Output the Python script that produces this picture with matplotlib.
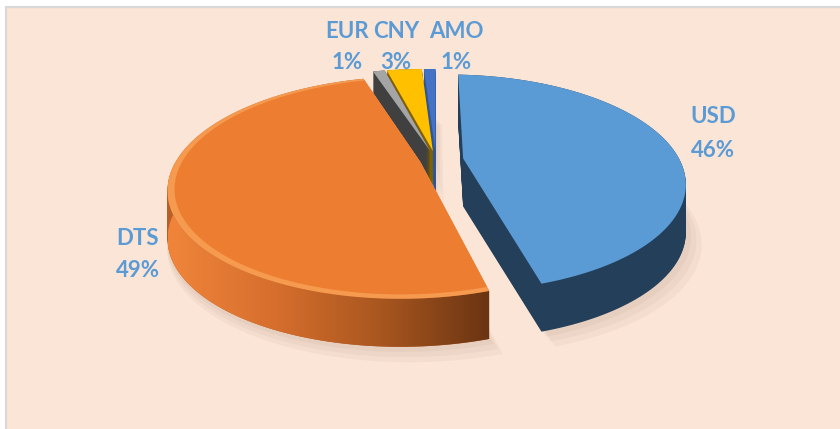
"""
Exploded 3D-look pie of currency shares (USD, DTS, EUR, CNY, AMO).
Writes out.png (840x429).
"""

import matplotlib

matplotlib.use("Agg")
import matplotlib.pyplot as plt
import numpy as np
from matplotlib.colors import LinearSegmentedColormap
from matplotlib.patches import Polygon, Rectangle

# data
CURRENCIES = ["USD", "DTS", "EUR", "CNY", "AMO"]
SHARES = [46, 49, 1, 3, 1]
PCT_LABELS = ["46%", "49%", "1%", "3%", "1%"]

# styling
TOP_COLORS = ["#5B9BD5", "#ED7D31", "#A5A5A5", "#FFC000", "#4472C4"]
SIDE_COLORS = ["#243F5A", "#B85F27", "#404040", "#7F6000", "#2F5597"]
EXPLODE = [0.12, 0.07, 0.09, 0.09, 0.09]
START_ANGLE = 90
LABEL_COLOR = "#5B9BD5"
BG_COLOR = "#FBE5D6"

W_PX, H_PX = 840, 429
RX_PX, RY_PX = 230, 104          # radii of the top face before perspective
CX_PX, CY_PX = 436, 160          # centre (from top-left)
DEPTH_PX = 48
PERSP_Y = 0.227                  # far half smaller, near half bigger
PERSP_X = 0.05                   # right side slightly farther away

# label anchors in pixels (centre x, baseline y from top)
LABEL_POS = {
    "USD": (713, 123, 157),
    "DTS": (138, 245, 277),
    "EUR": (347, 38, 69),
    "CNY": (396, 38, 69),
    "AMO": (456, 38, 69),
}

plt.rcParams["font.family"] = ["Lato", "DejaVu Sans"]


def project(pts, d):
    """Ground-plane pie coords -> screen data coords, d = drop below the top face."""
    x, g = pts[:, 0], pts[:, 1]
    s = 1.0 / (1.0 + PERSP_Y * g + PERSP_X * x)
    return np.column_stack([x * s, g * s - d])


def wedge_pts(w, r=None, n=240):
    r = w.r if r is None else r
    t = np.deg2rad(np.linspace(w.theta1, w.theta2, n))
    cx, cy = w.center
    arc = np.column_stack([cx + r * np.cos(t), cy + r * np.sin(t)])
    return np.vstack([[cx, cy], arc])


fig = plt.figure(figsize=(W_PX / 100, H_PX / 100), dpi=100)
fig.patch.set_facecolor("white")
fig.patches.append(
    Rectangle((6 / W_PX, -0.01), 1.0, 1 - 7 / H_PX + 0.01,
              transform=fig.transFigure, facecolor=BG_COLOR,
              edgecolor="#D9D9D9", linewidth=1.6, zorder=-5)
)

ax = fig.add_axes([0, 0, 1, 1])
ax.patch.set_alpha(0)

# the pie itself gives the wedge geometry (angles, exploded centres)
wedges, _ = ax.pie(SHARES, explode=EXPLODE, startangle=START_ANGLE,
                   counterclock=False, radius=1.0,
                   wedgeprops=dict(linewidth=0))
for w in wedges:
    w.set_visible(False)

depth = DEPTH_PX / RY_PX


def add_poly(pts, color, z, alpha=1.0):
    ax.add_patch(Polygon(pts, closed=True, facecolor=color, edgecolor="none",
                         linewidth=0, alpha=alpha, zorder=z))


# soft shadow on the background
for k in range(3):
    for w in wedges:
        pts = wedge_pts(w, r=1.0 + 0.012 * (k + 1))
        pts[:, 0] += 0.012 * (k + 1)
        add_poly(project(pts, depth + 0.03 * (k + 1)), "#7a5a48", 1, 0.05)

# side walls: stack of dropped copies, bottom first
for d in np.linspace(depth, 0, DEPTH_PX + 1):
    for w, c in zip(wedges, SIDE_COLORS):
        add_poly(project(wedge_pts(w, n=120), d), c, 2)

# horizontal shading on the front wall of DTS
dts = wedges[1]
t = np.deg2rad(np.linspace(dts.theta1, dts.theta2, 400))
t = t[np.sin(t) <= 0]
arc = np.column_stack([dts.center[0] + np.cos(t), dts.center[1] + np.sin(t)])
top_arc = project(arc, 0)
bot_arc = project(arc, depth)
side_poly = Polygon(np.vstack([top_arc, bot_arc[::-1]]), closed=True,
                    facecolor="none", edgecolor="none")
ax.add_patch(side_poly)
cmap = LinearSegmentedColormap.from_list(
    "dts_side", ["#F0853A", "#D66E2D", "#A8561F", "#6A3412"])
grad = np.linspace(0, 1, 256).reshape(1, -1)
img = ax.imshow(grad, cmap=cmap, aspect="auto",
                extent=[top_arc[:, 0].min(), top_arc[:, 0].max(),
                        bot_arc[:, 1].min(), top_arc[:, 1].max()],
                zorder=3)
img.set_clip_path(side_poly)

# top faces
for i, (w, c) in enumerate(zip(wedges, TOP_COLORS)):
    if CURRENCIES[i] == "DTS":
        add_poly(project(wedge_pts(w), 0), "#F59A4E", 4)
        add_poly(project(wedge_pts(w, r=0.975), 0), c, 4)
    else:
        add_poly(project(wedge_pts(w), 0), c, 4)

ax.set_aspect("auto")
ax.set_xlim(-CX_PX / RX_PX, (W_PX - CX_PX) / RX_PX)
cy_b = H_PX - CY_PX
ax.set_ylim(-cy_b / RY_PX, (H_PX - cy_b) / RY_PX)
ax.axis("off")

for name, pct in zip(CURRENCIES, PCT_LABELS):
    x, y1, y2 = LABEL_POS[name]
    for txt, yy in ((name, y1), (pct, y2)):
        fig.text(x / W_PX, 1 - yy / H_PX, txt, color=LABEL_COLOR,
                 fontsize=16, fontweight="bold", ha="center", va="baseline")

fig.savefig("out.png", dpi=100, facecolor=fig.get_facecolor())
